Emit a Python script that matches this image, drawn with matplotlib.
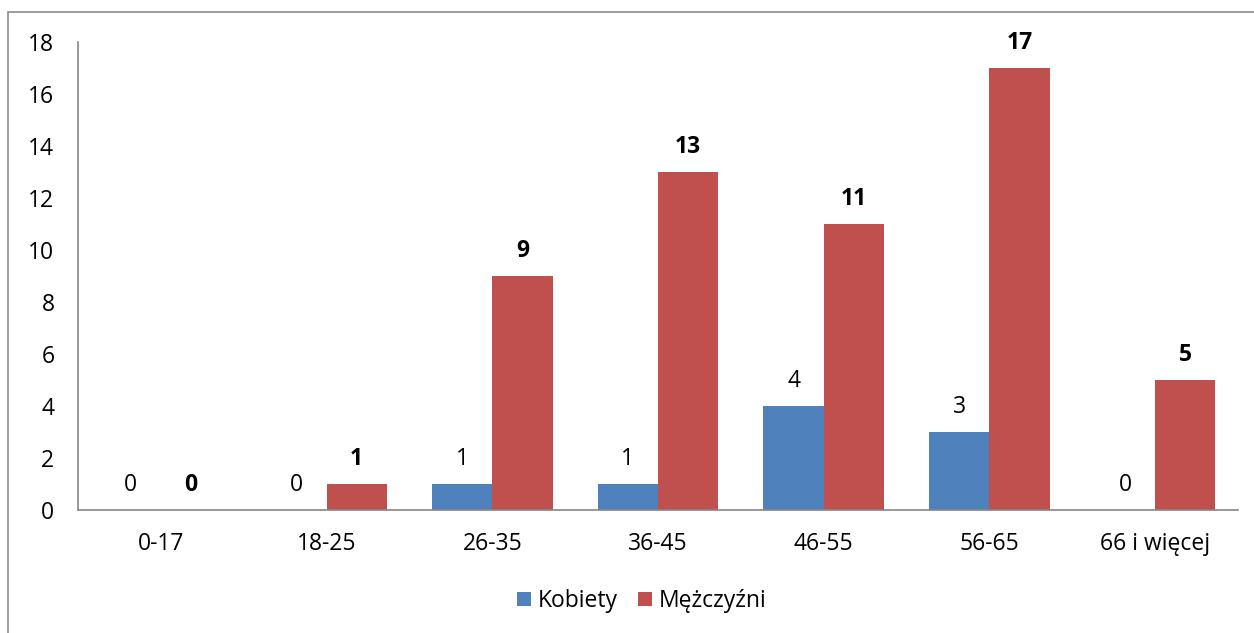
import numpy as np
import matplotlib.pyplot as plt
from matplotlib.patches import Rectangle

# age groups and counts
age_groups = ['0-17', '18-25', '26-35', '36-45', '46-55', '56-65', '66 i więcej']
kobiety = [0, 0, 1, 1, 4, 3, 0]
mezczyzni = [0, 1, 9, 13, 11, 17, 5]

plt.rcParams['font.family'] = ['Open Sans', 'DejaVu Sans']

W, H = 1254, 633
fig = plt.figure(figsize=(W / 100, H / 100), dpi=100)

# outer chart border (Excel style), only left and top edges visible
fig.patches.append(Rectangle((8 / W, -0.1), 1.2, 1.1 - 12 / H, transform=fig.transFigure,
                             fill=False, edgecolor='#8c8c8c', linewidth=1.2))

ax = fig.add_axes([78 / W, 1 - 510 / H, (1238 - 78) / W, (510 - 42) / H])

x = np.arange(len(age_groups))
w = 0.364
b1 = ax.bar(x - w / 2, kobiety, w, color='#4F81BD', label='Kobiety')
b2 = ax.bar(x + w / 2, mezczyzni, w, color='#C0504D', label='Mężczyźni')

fs = 16.5
for rect, v in zip(b1, kobiety):
    ax.annotate(str(v), (rect.get_x() + rect.get_width() / 2, v), xytext=(0, 9.5),
                textcoords='offset points', ha='center', va='bottom', fontsize=fs)
for rect, v in zip(b2, mezczyzni):
    ax.annotate(str(v), (rect.get_x() + rect.get_width() / 2, v), xytext=(0, 9.5),
                textcoords='offset points', ha='center', va='bottom', fontsize=fs,
                fontweight='bold')

ax.set_xlim(-0.5, len(age_groups) - 0.5)
ax.set_ylim(0, 18)
ax.set_yticks(range(0, 19, 2))
ax.set_xticks(x)
ax.set_xticklabels(age_groups)
ax.tick_params(axis='both', length=0, labelsize=fs)
ax.tick_params(axis='y', pad=17)
ax.tick_params(axis='x', pad=16)
for s in ['top', 'right']:
    ax.spines[s].set_visible(False)
for s in ['left', 'bottom']:
    ax.spines[s].set_color('#868686')
    ax.spines[s].set_linewidth(1.2)

ax.legend(loc='center', bbox_to_anchor=(642 / W, 1 - 601 / H), bbox_transform=fig.transFigure,
          ncol=2, frameon=False, fontsize=fs, handlelength=0.6, handleheight=0.6,
          handletextpad=0.3, columnspacing=0.9)

fig.savefig('out.png', dpi=100)
